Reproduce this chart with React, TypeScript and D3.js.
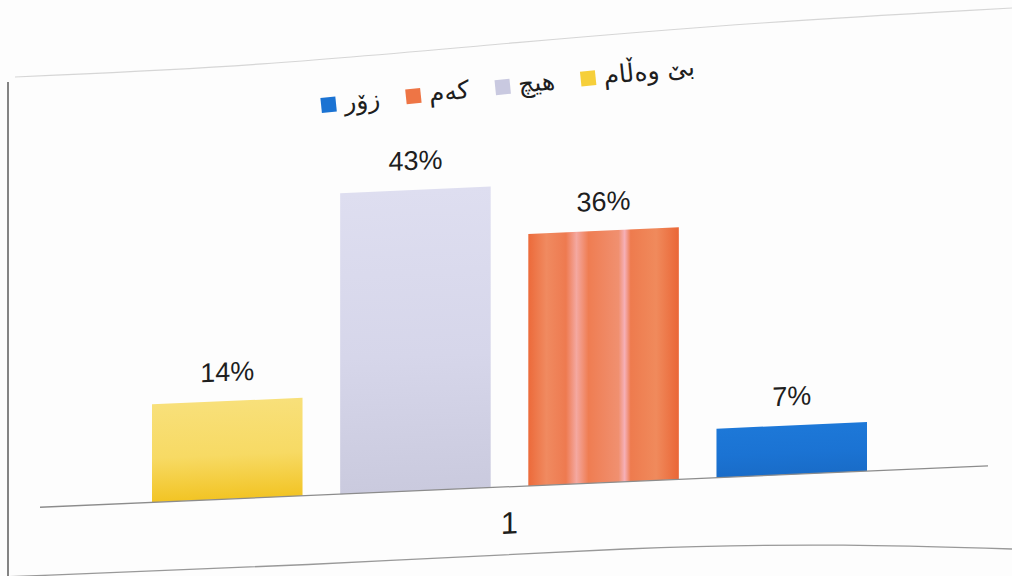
import React, { useEffect, useRef } from "react";
import * as d3 from "d3";

const categories = ["1"];
const seriesNames = ["بێ وەڵام", "هیچ", "کەم", "زۆر"];
const seriesValues = [14, 43, 36, 7];
const seriesColors = ["#f6cf3a", "#c9c9e0", "#ee7545", "#1b73d3"];
const legendOrder = ["زۆر", "کەم", "هیچ", "بێ وەڵام"];

const W = 1012;
const H = 576;

export default function App() {
  const ref = useRef<SVGSVGElement | null>(null);

  useEffect(() => {
    const svg = d3.select(ref.current);
    svg.selectAll("*").remove();

    const defs = svg.append("defs");
    const gradStops: [string, string, string][] = [
      ["#f8e07a", "#f7da64", "#f2c424"],
      ["#dedef0", "#d6d6ea", "#cacade"],
      ["#f0875e", "#ee7a4c", "#ec6a3a"],
      ["#1d78d8", "#1b73d3", "#196cc8"],
    ];
    gradStops.forEach((s, i) => {
      const g = defs
        .append("linearGradient")
        .attr("id", `g${i}`)
        .attr("x1", 0)
        .attr("y1", 0)
        .attr("x2", 0)
        .attr("y2", 1);
      g.append("stop").attr("offset", "0%").attr("stop-color", s[0]);
      g.append("stop").attr("offset", "55%").attr("stop-color", s[1]);
      g.append("stop").attr("offset", "100%").attr("stop-color", s[2]);
    });
    const og = defs
      .append("linearGradient")
      .attr("id", "ostripe")
      .attr("x1", 0)
      .attr("y1", 0)
      .attr("x2", 1)
      .attr("y2", 0);
    [
      [0, "#ec6a3a"],
      [0.12, "#f08a60"],
      [0.25, "#ee7a50"],
      [0.32, "#f4a8a0"],
      [0.4, "#ef7d52"],
      [0.6, "#f09070"],
      [0.64, "#f6b0b8"],
      [0.68, "#ee7b4e"],
      [0.85, "#f08a5c"],
      [1, "#ea6636"],
    ].forEach(([o, c]) =>
      og.append("stop").attr("offset", `${(o as number) * 100}%`).attr("stop-color", c as string)
    );

    svg.append("rect").attr("width", W).attr("height", H).attr("fill", "#fdfdfd");

    // page border decorations
    svg
      .append("line")
      .attr("x1", 8)
      .attr("x2", 8)
      .attr("y1", 82)
      .attr("y2", H)
      .attr("stroke", "#777")
      .attr("stroke-width", 1.8);
    const curve = d3.line().curve(d3.curveBasis);
    svg
      .append("path")
      .attr("d", curve([[15, 77], [260, 66], [520, 42], [760, 22], [1012, 8]]) as string)
      .attr("fill", "none")
      .attr("stroke", "#d6d6d6")
      .attr("stroke-width", 1.2);
    svg
      .append("path")
      .attr("d", curve([[0, 577], [300, 566], [650, 546], [850, 544], [1012, 549]]) as string)
      .attr("fill", "none")
      .attr("stroke", "#999")
      .attr("stroke-width", 1.3);

    const slope = Math.atan(-0.0437) * (180 / Math.PI);
    const chart = svg.append("g").attr("transform", `skewY(${slope})`);

    const y = d3.scaleLinear().domain([0, 50]).range([509, 159]);
    const x0 = d3.scaleBand().domain(categories).range([152, 867]);
    const x1 = d3
      .scaleBand()
      .domain(seriesNames)
      .range([x0(categories[0]) as number, (x0(categories[0]) as number) + x0.bandwidth()])
      .paddingInner(0.2);

    chart
      .selectAll("rect.bar")
      .data(seriesValues)
      .join("rect")
      .attr("class", "bar")
      .attr("x", (_, i) => x1(seriesNames[i]) as number)
      .attr("width", x1.bandwidth())
      .attr("y", (d) => y(d))
      .attr("height", (d) => y(0) - y(d))
      .attr("fill", (_, i) => (i === 2 ? "url(#ostripe)" : `url(#g${i})`));

    chart
      .selectAll("text.lbl")
      .data(seriesValues)
      .join("text")
      .attr("class", "lbl")
      .attr("x", (_, i) => (x1(seriesNames[i]) as number) + x1.bandwidth() / 2)
      .attr("y", (d) => y(d) - 20)
      .attr("text-anchor", "middle")
      .attr("font-family", "Liberation Sans, Arial, sans-serif")
      .attr("font-size", 27)
      .attr("fill", "#1e1e1e")
      .text((d) => `${d}%`);

    chart
      .append("line")
      .attr("x1", 40)
      .attr("x2", 988)
      .attr("y1", y(0))
      .attr("y2", y(0))
      .attr("stroke", "#8c8c8c")
      .attr("stroke-width", 1.3);

    chart
      .selectAll("text.cat")
      .data(categories)
      .join("text")
      .attr("class", "cat")
      .attr("x", (d) => (x0(d) as number) + x0.bandwidth() / 2)
      .attr("y", y(0) + 47)
      .attr("text-anchor", "middle")
      .attr("font-family", "Liberation Sans, Arial, sans-serif")
      .attr("font-size", 31)
      .attr("fill", "#1e1e1e")
      .text((d) => d);

    // legend
    const legend = svg.append("g").attr("transform", `translate(508,87) rotate(-5.8)`);
    const items = legend.append("g");
    let cx = 0;
    legendOrder.forEach((name) => {
      const idx = seriesNames.indexOf(name);
      items
        .append("rect")
        .attr("x", cx)
        .attr("y", -8)
        .attr("width", 15)
        .attr("height", 15)
        .attr("fill", seriesColors[idx]);
      const t = items
        .append("text")
        .attr("x", cx + 23)
        .attr("y", 7)
        .attr("text-anchor", "start")
        .attr("font-family", "DejaVu Sans, Noto Sans, sans-serif")
        .attr("font-size", 25)
        .attr("fill", "#1e1e1e")
        .text(name);
      const w = (t.node() as SVGTextElement).getComputedTextLength();
      cx += 23 + w + 26;
    });
    const total = cx - 26;
    items.attr("transform", `translate(${-total / 2},0)`);
  }, []);

  return (
    <svg
      ref={ref}
      width={W}
      height={H}
      style={{ display: "block", position: "absolute", left: 0, top: 0 }}
    />
  );
}
